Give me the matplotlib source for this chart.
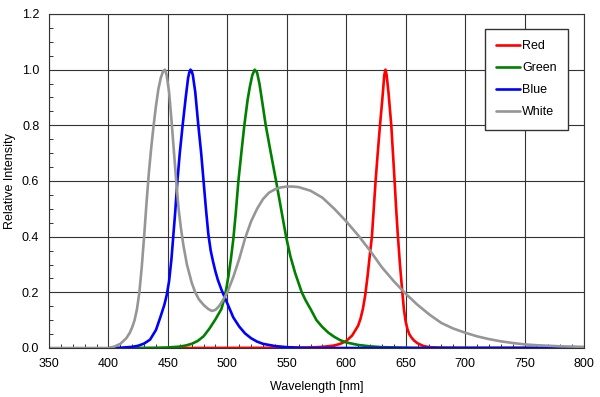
import matplotlib.pyplot as plt
from matplotlib.ticker import MultipleLocator

plt.rcParams["font.family"] = ["Liberation Sans", "DejaVu Sans"]

# Spectra (wavelength in nm, relative intensity)
wl_red = [460, 560, 570, 580, 590, 595, 600, 605, 610, 612, 614, 616, 618,
          620, 621.6, 623, 624.7, 626.5, 628.4, 630.5, 632, 633, 634, 635.5,
          637.9, 639.3, 640.7, 642, 643.5, 645.2, 647.2, 648.5, 650, 651.5,
          653, 655, 657, 660, 665, 670, 680, 700, 800]
red = [0, 0.001, 0.002, 0.004, 0.009, 0.015, 0.025, 0.045, 0.08, 0.105, 0.14,
       0.19, 0.26, 0.34, 0.4, 0.49, 0.6, 0.7, 0.8, 0.9, 0.98, 1.0, 0.98, 0.92,
       0.8, 0.7, 0.6, 0.5, 0.4, 0.3, 0.2, 0.14, 0.095, 0.068, 0.05, 0.037,
       0.027, 0.017, 0.007, 0.003, 0.001, 0, 0]

wl_green = [420, 440, 450, 460, 465, 470, 475, 480, 485, 490, 495, 497, 499,
            501, 503, 505, 507, 509.3, 512, 514.3, 517, 519, 521, 523, 525,
            527, 529.5, 532.3, 536.6, 541, 545.2, 549.4, 553, 557, 562.6, 566,
            570, 575, 580, 585, 590, 595, 600, 610, 620, 630, 640, 660, 800]
green = [0, 0.001, 0.002, 0.005, 0.009, 0.015, 0.025, 0.042, 0.07, 0.103,
         0.14, 0.17, 0.21, 0.26, 0.32, 0.39, 0.48, 0.6, 0.71, 0.8, 0.89, 0.94,
         0.98, 1.0, 0.99, 0.95, 0.88, 0.8, 0.7, 0.6, 0.5, 0.4, 0.33, 0.27, 0.2,
         0.17, 0.14, 0.1, 0.075, 0.055, 0.04, 0.028, 0.02, 0.011, 0.006, 0.003,
         0.002, 0, 0]

wl_blue = [400, 410, 420, 425, 430, 435, 440, 444, 447, 449, 451, 453, 454.5,
           456, 458, 460, 462.4, 465, 467, 468, 469, 470, 471, 473, 475.6, 478,
           480, 482, 484, 486, 488, 490, 492, 495, 500, 505, 510, 515, 520,
           525, 530, 540, 550, 560, 570, 800]
blue = [0, 0.001, 0.004, 0.008, 0.016, 0.03, 0.065, 0.115, 0.155, 0.19, 0.24,
        0.32, 0.4, 0.48, 0.6, 0.7, 0.8, 0.9, 0.97, 0.99, 1.0, 0.995, 0.98,
        0.92, 0.8, 0.7, 0.6, 0.5, 0.41, 0.35, 0.31, 0.275, 0.245, 0.21, 0.16,
        0.11, 0.077, 0.052, 0.035, 0.023, 0.015, 0.007, 0.003, 0.001, 0, 0]

wl_white = [350, 400, 405, 410, 415, 418, 420, 422, 424, 426, 428, 430, 432,
            434, 436, 438, 440, 442, 444, 446, 447.5, 449, 451, 453, 455, 457,
            459, 461, 463, 466, 470, 473, 476, 480, 484, 487, 490, 493, 496,
            500, 505, 510, 515, 520, 525, 530, 535, 540, 545, 550, 555, 560,
            570, 580, 590, 600, 610, 620, 630, 640, 650, 660, 670, 680, 690,
            700, 710, 720, 730, 740, 750, 760, 780, 800]
white = [0, 0, 0.005, 0.015, 0.035, 0.055, 0.075, 0.1, 0.14, 0.2, 0.29, 0.4,
         0.52, 0.63, 0.72, 0.8, 0.87, 0.93, 0.97, 0.995, 1.0, 0.98, 0.92, 0.82,
         0.71, 0.6, 0.5, 0.43, 0.37, 0.3, 0.235, 0.2, 0.175, 0.155, 0.14,
         0.133, 0.137, 0.15, 0.17, 0.2, 0.255, 0.32, 0.395, 0.455, 0.5, 0.535,
         0.558, 0.57, 0.577, 0.58, 0.58, 0.578, 0.565, 0.54, 0.5, 0.455, 0.405,
         0.35, 0.29, 0.24, 0.195, 0.155, 0.12, 0.09, 0.07, 0.055, 0.042, 0.032,
         0.024, 0.018, 0.013, 0.01, 0.006, 0.004]

x_ticks = [350, 400, 450, 500, 550, 600, 650, 700, 750, 800]
y_ticks = [0.0, 0.2, 0.4, 0.6, 0.8, 1.0, 1.2]

fig = plt.figure(figsize=(6, 3.97), dpi=100)
ax = fig.add_axes([49 / 600, 49 / 397, 535 / 600, 334 / 397])

style = dict(lw=1.9, solid_joinstyle="round", solid_capstyle="round")
ax.plot(wl_red, red, color="#ff0000", label="Red", **style)
ax.plot(wl_green, green, color="#008000", label="Green", **style)
ax.plot(wl_blue, blue, color="#0000ff", label="Blue", **style)
ax.plot(wl_white, white, color="#969696", label="White", **style)

ax.set_xlim(350, 800)
ax.set_ylim(0, 1.2)
ax.set_xticks(x_ticks)
ax.set_yticks(y_ticks)
ax.set_yticklabels([f"{v:.1f}" for v in y_ticks])
ax.xaxis.set_minor_locator(MultipleLocator(10))
ax.yaxis.set_minor_locator(MultipleLocator(0.05))

# grid only on major ticks, minor ticks point inward
ax.grid(True, which="major", color="#333333", lw=0.8)
ax.set_axisbelow(True)
ax.tick_params(which="major", length=0, labelsize=9, pad=7)
ax.tick_params(which="minor", direction="in", length=3, width=0.7,
               color="#333333")
for spine in ax.spines.values():
    spine.set_color("#333333")
    spine.set_linewidth(0.8)

ax.set_xlabel("Wavelength [nm]", fontsize=9, labelpad=8)
ax.set_ylabel("Relative Intensity", fontsize=9, labelpad=4)

ax.legend(loc="upper right", bbox_to_anchor=(568 / 600, 1 - 29 / 397),
          bbox_transform=fig.transFigure, borderaxespad=0, fontsize=9,
          fancybox=False, framealpha=1, edgecolor="#333333",
          handlelength=1.9, handletextpad=0.2, labelspacing=0.8,
          borderpad=0.9)

fig.savefig("out.png", dpi=100)
